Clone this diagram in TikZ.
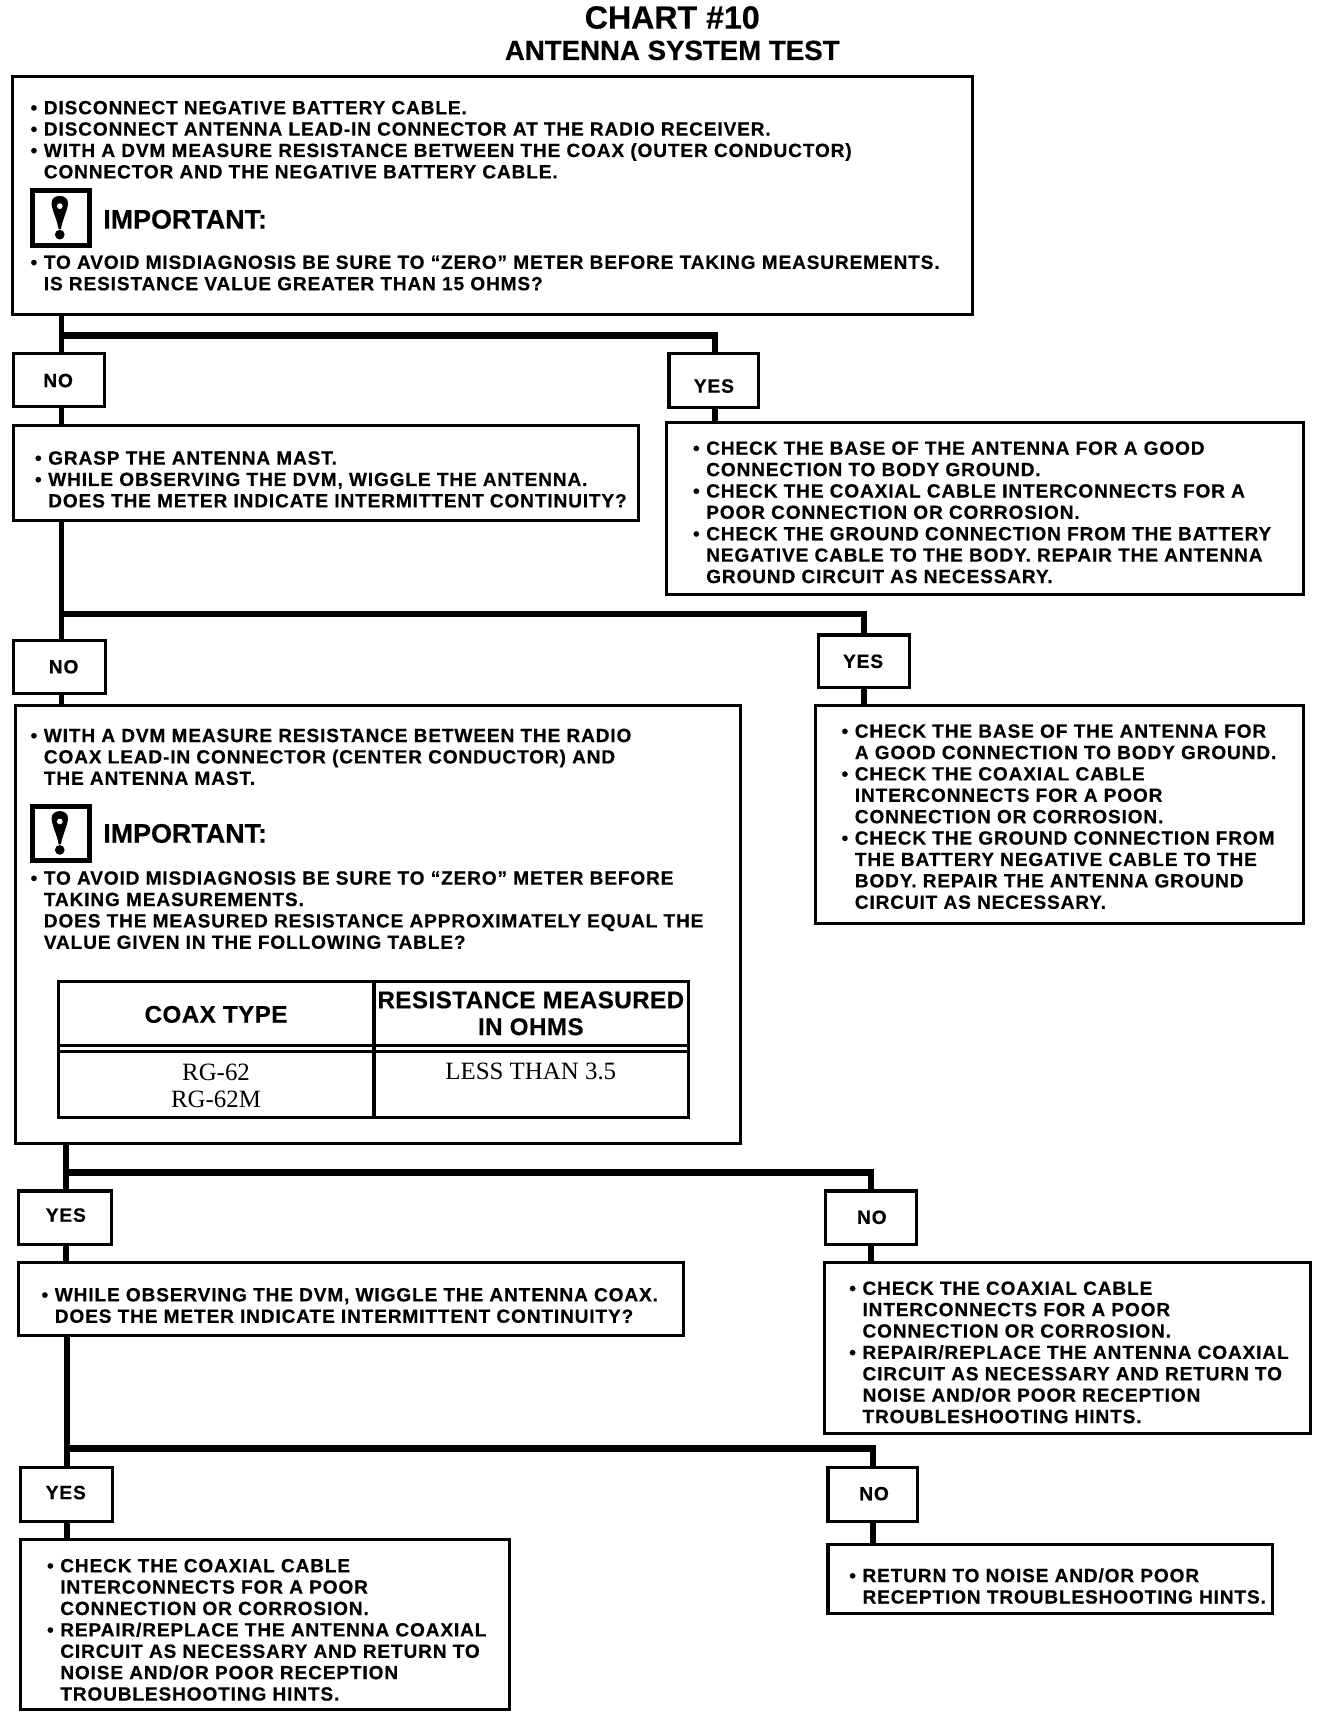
\documentclass[tikz,border=0pt]{standalone}
\usepackage{fontspec}
\setmainfont{Liberation Sans}[LetterSpace=4.5,BoldFeatures={FakeBold=0.5}]
\newfontfamily\tms{Liberation Serif}
\usetikzlibrary{calc}
\newcommand{\Bu}{\llap{•\hspace{6pt}}}
\tikzset{
  x=1pt,y=-1pt,
  bbox/.style={draw=black,line width=2.8pt,fill=white,inner sep=0pt,outer sep=0pt,anchor=north west},
  body/.style={inner sep=0pt,outer sep=0pt,anchor=north west,align=left,font=\fontsize{17.4}{19.5}\selectfont\bfseries},
  tag/.style={inner sep=0pt,font=\fontsize{17.5}{19}\selectfont\bfseries},
  imp/.style={inner sep=0pt,anchor=west,font=\fontsize{24.5}{28}\selectfont\bfseries\addfontfeatures{LetterSpace=0}},
  cell/.style={inner sep=0pt,align=center,font=\fontsize{22}{24.5}\selectfont\bfseries\addfontfeatures{LetterSpace=2}},
  cellb/.style={inner sep=0pt,align=center,font=\fontsize{22.7}{25}\selectfont\tms},
  vline/.style={line width=5pt,black},
  hline/.style={line width=6pt,black,line cap=butt},
}
% box: name, x1, y1, x2, y2
\newcommand{\Bx}[5]{\node[bbox,minimum width={(#4-#2)*1pt},minimum height={(#5-#3)*1pt}] (#1) at (#2,#3) {};}
% icon: name, top y
\newcommand{\Ic}[2]{%
  \node[bbox,line width=4.5pt,minimum width=52pt,minimum height=50pt] (#1) at (30,#2) {};
  \begin{scope}[shift={(54.5,#2)}]
    \fill[black] (-7.5,11) .. controls (-7.5,2.5) and (7.5,2.5) .. (7.5,11) .. controls (7.5,17) and (2.5,26) .. (1,35) -- (-1,35) .. controls (-2.5,26) and (-7.5,17) .. (-7.5,11) -- cycle;
    \fill[white] (0,14) circle (2.6);
    \fill[black] (0,40) circle (4.4);
  \end{scope}}
\begin{document}
\begin{tikzpicture}
\useasboundingbox (0,0) rectangle (1211,1568.4);
\fill[white] (0,0) rectangle (1211,1568.4);

\node[inner sep=0pt,font=\fontsize{29.3}{30}\selectfont\bfseries\addfontfeatures{LetterSpace=0}] (title) at (613,16) {CHART \#10};
\node[inner sep=0pt,font=\fontsize{25.2}{26}\selectfont\bfseries\addfontfeatures{LetterSpace=0}] (subtitle) at (613,46) {ANTENNA SYSTEM TEST};

% junctions of the connectors
\coordinate (j1) at (56,306);
\coordinate (k1) at (652,306);
\coordinate (j2) at (56,560);
\coordinate (k2) at (788,560);
\coordinate (j3) at (60,1069);
\coordinate (k3) at (794,1069);
\coordinate (j4) at (61,1321);
\coordinate (k4) at (796,1321);

% boxes
\Bx{b1}{11}{70}{887}{287}
\Bx{n1}{12}{322}{95}{371}
\Bx{y1}{610}{322}{692}{372}
\Bx{b2}{12}{388}{582}{475}
\Bx{b3}{608}{385}{1188.5}{542}
\Bx{n2}{12}{584}{96}{632}
\Bx{y2}{746}{579}{829}{627}
\Bx{b4}{14}{643}{675}{1043}
\Bx{b5}{744}{643}{1189}{842}
\Bx{y3}{17}{1086}{102}{1135}
\Bx{n3}{753}{1086}{835.5}{1135}
\Bx{b6}{17}{1151}{623}{1218}
\Bx{b7}{752}{1151}{1195}{1307}
\Bx{y4}{19}{1338}{103}{1387}
\Bx{n4}{755}{1338}{837}{1387}
\Bx{b8}{19}{1404}{465}{1559}
\Bx{b9}{755}{1408}{1160}{1471}

% connectors
\draw[vline] (b1.south -| j1) -- (n1.north -| j1);
\draw[hline] (j1) -- (k1);
\draw[vline] ([yshift=3pt]k1) -- (y1.north -| k1);
\draw[vline] (n1.south -| j1) -- (b2.north -| j1);
\draw[vline] (y1.south -| k1) -- (b3.north -| k1);
\draw[vline] (b2.south -| j2) -- (n2.north -| j2);
\draw[hline] (j2) -- (k2);
\draw[vline] ([yshift=3pt]k2) -- (y2.north -| k2);
\draw[vline] (n2.south -| j2) -- (b4.north -| j2);
\draw[vline] (y2.south -| k2) -- (b5.north -| k2);
\draw[vline] (b4.south -| j3) -- (y3.north -| j3);
\draw[hline] (j3) -- (k3);
\draw[vline] ([yshift=3pt]k3) -- (n3.north -| k3);
\draw[vline] (y3.south -| j3) -- (b6.north -| j3);
\draw[vline] (n3.south -| k3) -- (b7.north -| k3);
\draw[vline] (b6.south -| j4) -- (y4.north -| j4);
\draw[hline] (j4) -- (k4);
\draw[vline] ([yshift=3pt]k4) -- (n4.north -| k4);
\draw[vline] (y4.south -| j4) -- (b8.north -| j4);
\draw[vline] (n4.south -| k4) -- (b9.north -| k4);

% tags
\node[tag] (tn1) at (53,347) {NO};
\node[tag] (ty1) at (651,352) {YES};
\node[tag] (tn2) at (58,608) {NO};
\node[tag] (ty2) at (787,603) {YES};
\node[tag] (ty3) at (60,1108) {YES};
\node[tag] (tn3) at (795,1110) {NO};
\node[tag] (ty4) at (60,1361) {YES};
\node[tag] (tn4) at (797,1362) {NO};

% box 1
\node[body] (t1a) at (40,90.5) {\strut\Bu DISCONNECT NEGATIVE BATTERY CABLE.\\
\Bu DISCONNECT ANTENNA LEAD-IN CONNECTOR AT THE RADIO RECEIVER.\\
\Bu WITH A DVM MEASURE RESISTANCE BETWEEN THE COAX (OUTER CONDUCTOR)\\
CONNECTOR AND THE NEGATIVE BATTERY CABLE.};
\Ic{i1}{174}
\node[imp] (m1) at (94,200) {IMPORTANT:};
\node[body] (t1b) at (40,231.5) {\strut\Bu TO AVOID MISDIAGNOSIS BE SURE TO “ZERO” METER BEFORE TAKING MEASUREMENTS.\\
IS RESISTANCE VALUE GREATER THAN 15 OHMS?};

% box 2, 3
\node[body] (t2) at (44,410) {\strut\Bu GRASP THE ANTENNA MAST.\\
\Bu WHILE OBSERVING THE DVM, WIGGLE THE ANTENNA.\\
DOES THE METER INDICATE INTERMITTENT CONTINUITY?};
\node[body] (t3) at (644,401) {\strut\Bu CHECK THE BASE OF THE ANTENNA FOR A GOOD\\
CONNECTION TO BODY GROUND.\\
\Bu CHECK THE COAXIAL CABLE INTERCONNECTS FOR A\\
POOR CONNECTION OR CORROSION.\\
\Bu CHECK THE GROUND CONNECTION FROM THE BATTERY\\
NEGATIVE CABLE TO THE BODY. REPAIR THE ANTENNA\\
GROUND CIRCUIT AS NECESSARY.};

% box 4
\node[body] (t4a) at (40,663) {\strut\Bu WITH A DVM MEASURE RESISTANCE BETWEEN THE RADIO\\
COAX LEAD-IN CONNECTOR (CENTER CONDUCTOR) AND\\
THE ANTENNA MAST.};
\Ic{i2}{735}
\node[imp] (m2) at (94,760) {IMPORTANT:};
\node[body] (t4b) at (40,793) {\strut\Bu TO AVOID MISDIAGNOSIS BE SURE TO “ZERO” METER BEFORE\\
TAKING MEASUREMENTS.\\
DOES THE MEASURED RESISTANCE APPROXIMATELY EQUAL THE\\
VALUE GIVEN IN THE FOLLOWING TABLE?};

% table
\node[bbox,minimum width=575pt,minimum height=124pt] (tb) at (53,895) {};
\coordinate (c1) at (341,895);
\draw[line width=2.8pt] (tb.north -| c1) -- (tb.south -| c1);
\coordinate (r1) at (53,953);
\coordinate (r2) at (53,959);
\draw[line width=2.8pt] (r1) -- (r1 -| tb.east);
\draw[line width=2.8pt] (r2) -- (r2 -| tb.east);
\node[cell] (h1) at (197,925) {COAX TYPE};
\node[cell] (h2) at (484,924) {RESISTANCE MEASURED\\IN OHMS};
\node[cellb] (d1) at (197,990) {RG-62\\RG-62M};
\node[cellb] (d2) at (484,977) {LESS THAN 3.5};

% box 5
\node[body] (t5) at (779.5,659) {\strut\Bu CHECK THE BASE OF THE ANTENNA FOR\\
A GOOD CONNECTION TO BODY GROUND.\\
\Bu CHECK THE COAXIAL CABLE\\
INTERCONNECTS FOR A POOR\\
CONNECTION OR CORROSION.\\
\Bu CHECK THE GROUND CONNECTION FROM\\
THE BATTERY NEGATIVE CABLE TO THE\\
BODY. REPAIR THE ANTENNA GROUND\\
CIRCUIT AS NECESSARY.};

% box 6, 7
\node[body] (t6) at (50,1173) {\strut\Bu WHILE OBSERVING THE DVM, WIGGLE THE ANTENNA COAX.\\
DOES THE METER INDICATE INTERMITTENT CONTINUITY?};
\node[body] (t7) at (786.5,1167) {\strut\Bu CHECK THE COAXIAL CABLE\\
INTERCONNECTS FOR A POOR\\
CONNECTION OR CORROSION.\\
\Bu REPAIR/REPLACE THE ANTENNA COAXIAL\\
CIRCUIT AS NECESSARY AND RETURN TO\\
NOISE AND/OR POOR RECEPTION\\
TROUBLESHOOTING HINTS.};

% box 8, 9
\node[body] (t8) at (55,1420) {\strut\Bu CHECK THE COAXIAL CABLE\\
INTERCONNECTS FOR A POOR\\
CONNECTION OR CORROSION.\\
\Bu REPAIR/REPLACE THE ANTENNA COAXIAL\\
CIRCUIT AS NECESSARY AND RETURN TO\\
NOISE AND/OR POOR RECEPTION\\
TROUBLESHOOTING HINTS.};
\node[body] (t9) at (786.5,1429) {\strut\Bu RETURN TO NOISE AND/OR POOR\\
RECEPTION TROUBLESHOOTING HINTS.};
\end{tikzpicture}
\end{document}
